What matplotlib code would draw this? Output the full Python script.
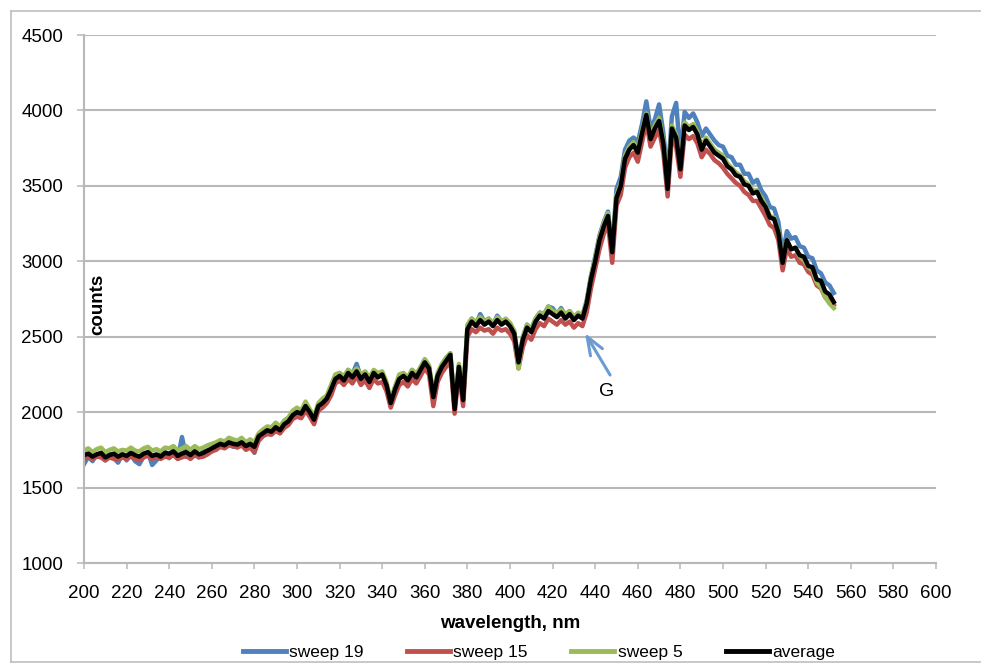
import numpy as np
import matplotlib
matplotlib.use("Agg")
import matplotlib.pyplot as plt
from matplotlib.lines import Line2D

plt.rcParams['font.family'] = ['Liberation Sans', 'DejaVu Sans']

# wavelength grid, nm (2 nm steps, 200..552)
wavelength = np.arange(200, 553, 2)

average = [
    1715,1725,1705,1720,1730,1700,1715,1725,1705,1720,
    1710,1730,1715,1705,1725,1735,1710,1720,1705,1730,
    1725,1740,1710,1725,1735,1715,1740,1720,1730,1745,
    1760,1775,1790,1780,1800,1790,1785,1800,1775,1790,
    1770,1840,1860,1880,1870,1900,1880,1920,1940,1980,
    2000,1990,2040,2000,1950,2040,2060,2090,2150,2220,
    2240,2210,2260,2230,2270,2220,2250,2200,2260,2230,
    2250,2180,2060,2150,2220,
    2240,2210,2260,2230,2280,2330,2290,2100,2240,2300,
    2340,2380,2020,2300,2080,2550,2600,2570,2610,2580,
    2600,2570,2610,2580,2600,
    2570,2520,2330,2480,2560,2530,2600,2640,2620,2670,
    2650,2630,2660,2620,2650,2610,2640,2620,2720,2880,
    3000,3140,3230,3300,3060,
    3420,3500,3680,3740,3770,3720,3850,3970,3810,3880,
    3930,3780,3480,3880,3820,3610,3900,3870,3890,3840,
    3740,3800,3760,3720,3700,
    3680,3630,3610,3570,3560,3510,3500,3450,3460,3400,
    3360,3290,3280,3190,2990,3140,3080,3090,3040,3030,
    2970,2960,2880,2870,2800,
    2780,2730,
]

sweep19 = [
    1655,1705,1675,1720,1720,1680,1725,1695,1665,1720,
    1680,1720,1675,1655,1705,1735,1650,1680,1725,1740,
    1695,1750,1690,1835,1705,1705,1740,1700,1740,1745,
    1740,1760,1810,1770,1790,1770,1780,1790,1760,1780,
    1730,1830,1870,1900,1860,1890,1860,1930,1930,1970,
    2010,1980,2060,1990,1930,2050,2070,2100,2170,2240,
    2260,2200,2280,2250,2320,2230,2260,2190,2270,2240,
    2260,2170,2070,2160,2230,
    2250,2220,2280,2250,2290,2350,2300,2110,2250,2310,
    2360,2390,2030,2310,2090,2560,2620,2580,2650,2600,
    2620,2580,2640,2600,2610,
    2590,2530,2340,2490,2580,2550,2620,2660,2650,2700,
    2690,2650,2690,2640,2670,2630,2650,2640,2740,2900,
    3030,3170,3260,3330,3080,
    3480,3560,3740,3800,3820,3790,3910,4060,3880,3940,
    4040,3850,3560,3960,4050,3700,3990,3950,3980,3920,
    3830,3880,3840,3800,3770,
    3760,3700,3690,3640,3640,3580,3580,3520,3540,3470,
    3430,3360,3350,3260,3050,3200,3150,3160,3100,3090,
    3030,3020,2940,2920,2860,
    2840,2790,
]

sweep15 = [
    1690,1700,1690,1705,1700,1680,1700,1690,1685,1700,
    1690,1705,1690,1680,1700,1710,1690,1700,1690,1705,
    1700,1715,1690,1700,1710,1690,1715,1700,1705,1720,
    1740,1750,1770,1760,1780,1775,1765,1780,1750,1765,
    1735,1810,1840,1855,1850,1875,1860,1895,1915,1955,
    1970,1960,2010,1970,1920,2010,2030,2060,2110,2190,
    2210,2180,2220,2190,2240,2180,2210,2160,2220,2190,
    2200,2140,2030,2110,2180,
    2200,2170,2220,2190,2240,2290,2250,2040,2200,2260,
    2300,2340,1990,2260,2040,2500,2550,2530,2560,2540,
    2550,2520,2560,2540,2550,
    2520,2470,2290,2430,2510,2480,2550,2590,2570,2620,
    2600,2580,2610,2580,2600,2560,2590,2570,2660,2820,
    2950,3080,3180,3250,2990,
    3370,3440,3620,3690,3720,3660,3790,3920,3760,3820,
    3870,3720,3430,3820,3760,3560,3840,3810,3830,3780,
    3690,3740,3710,3670,3650,
    3620,3580,3550,3520,3500,3460,3440,3400,3400,3350,
    3300,3240,3220,3140,2940,3090,3030,3040,2990,2980,
    2930,2910,2840,2820,2760,
    2740,2710,
]

sweep5 = [
    1745,1760,1735,1755,1765,1735,1750,1760,1740,1750,
    1745,1765,1745,1740,1760,1770,1745,1755,1740,1765,
    1760,1775,1745,1760,1775,1750,1775,1755,1765,1780,
    1790,1800,1815,1805,1830,1820,1810,1830,1800,1820,
    1800,1860,1885,1905,1900,1930,1905,1945,1965,2010,
    2030,2010,2070,2020,1970,2060,2090,2110,2180,2250,
    2260,2240,2280,2260,2290,2250,2270,2230,2280,2260,
    2270,2200,2080,2170,2250,
    2260,2230,2280,2250,2300,2350,2310,2120,2260,2320,
    2360,2390,2050,2320,2110,2580,2620,2600,2630,2600,
    2620,2590,2630,2600,2620,
    2590,2540,2290,2500,2580,2550,2620,2660,2650,2700,
    2670,2660,2680,2650,2670,2630,2660,2640,2730,2900,
    3020,3160,3250,3320,3070,
    3440,3520,3700,3760,3790,3740,3870,3980,3830,3900,
    3950,3800,3500,3900,3840,3630,3920,3890,3910,3860,
    3760,3820,3780,3740,3720,
    3700,3650,3620,3590,3570,3530,3510,3470,3470,3420,
    3370,3300,3290,3200,3000,3140,3080,3090,3030,3010,
    2960,2940,2860,2830,2760,
    2720,2690,
]

series_names = ["sweep 19", "sweep 15", "sweep 5", "average"]
series_colors = ["#4F81BD", "#C0504D", "#9BBB59", "#000000"]
x_ticks = list(range(200, 601, 20))
y_ticks = list(range(1000, 4501, 500))

fig = plt.figure(figsize=(9.81, 6.66), dpi=100)
W, H = 981, 666
ax = fig.add_axes([84 / W, 1 - 563 / H, (936 - 84) / W, (563 - 35) / H])

for data, name, col in zip([sweep19, sweep15, sweep5, average], series_names, series_colors):
    ax.plot(wavelength, data, color=col, lw=3.2, label=name, solid_joinstyle='round')

ax.set_xlim(200, 600)
ax.set_ylim(1000, 4500)
ax.set_xticks(x_ticks)
ax.set_yticks(y_ticks)
grid_col = "#B8B8B8"
ax.yaxis.grid(True, color=grid_col, lw=1.5)
ax.set_axisbelow(True)
for s in ["top", "right"]:
    ax.spines[s].set_visible(False)
for s in ["left", "bottom"]:
    ax.spines[s].set_color(grid_col)
    ax.spines[s].set_linewidth(1.5)
ax.tick_params(axis='y', direction='out', length=5, width=1.1, color=grid_col,
               labelsize=13.5, pad=10)
ax.tick_params(axis='x', direction='out', length=4, width=1.1, color=grid_col,
               labelsize=13.5, pad=12)

ax.set_xlabel("wavelength, nm", fontsize=13.5, fontweight='bold')
ax.xaxis.set_label_coords(0.5, -0.098)
ax.set_ylabel("counts", fontsize=13.5, fontweight='bold')
ax.yaxis.set_label_coords(0.026, 0.49)

# annotation "G"
ax.annotate("", xy=(435.2, 2524), xytext=(447.0, 2246),
            arrowprops=dict(arrowstyle='->,head_length=1.3,head_width=0.5',
                            mutation_scale=10, shrinkA=0, shrinkB=0,
                            color="#6A9BD3", lw=2.2))
ax.text(445.5, 2140, "G", fontsize=14, ha='center', va='center')

leg = fig.legend(loc='center', bbox_to_anchor=(539 / W, 1 - 652 / H), ncol=4,
                 frameon=False, fontsize=12.5, handlelength=2.47,
                 handletextpad=0.2, columnspacing=2.5)
for h in leg.get_lines():
    h.set_linewidth(3.5)

# outer chart border
bc = "#BFBFBF"
fig.add_artist(Line2D([11 / W, 11 / W], [1 - 11 / H, 1 - 662 / H], color=bc, lw=1.2))
fig.add_artist(Line2D([11 / W, 1.0], [1 - 11 / H, 1 - 11 / H], color=bc, lw=1.2))
fig.add_artist(Line2D([11 / W, 1.0], [1 - 662 / H, 1 - 662 / H], color=bc, lw=1.2))

fig.savefig("out.png", dpi=100)
